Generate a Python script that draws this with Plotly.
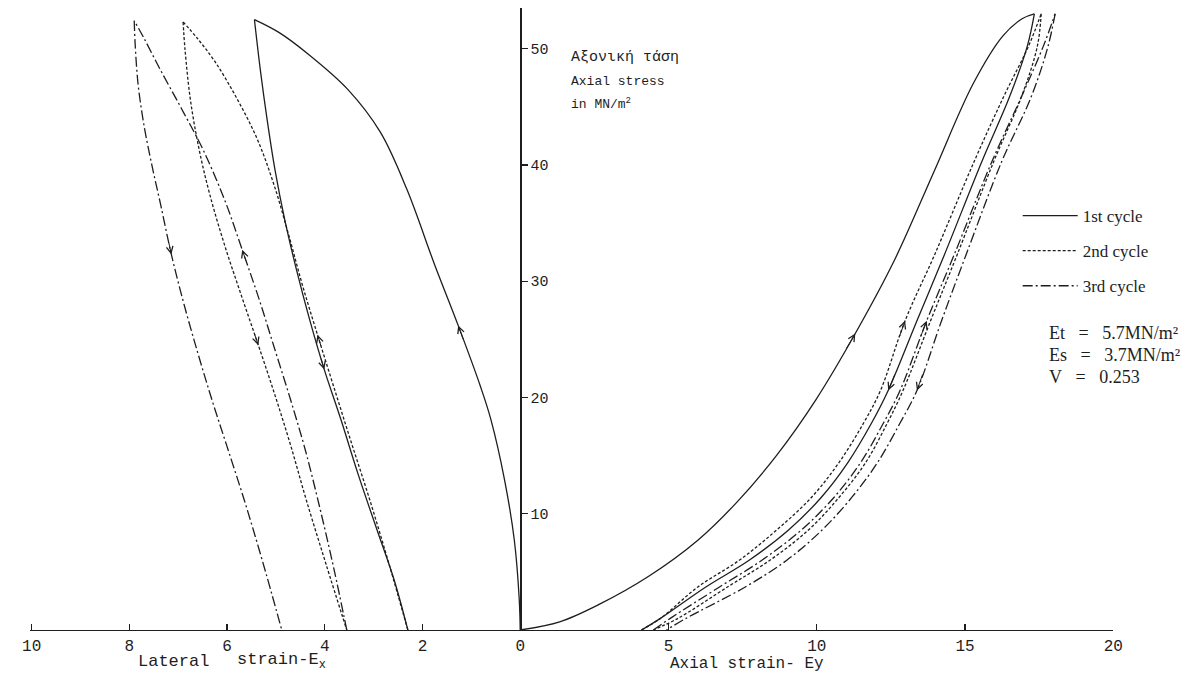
import plotly.graph_objects as go

W, H = 1204, 673

# ---------------- lateral strain side (plotted leftwards from the origin) ----------------
lat_load1_strain = [0.00, 0.02, 0.12, 0.32, 0.60, 0.81, 1.27, 1.75, 2.32, 2.86, 3.53, 4.33, 4.94, 5.44]
lat_load1_stress = [0.0, 2.6, 7.7, 12.9, 18.1, 20.9, 26.2, 31.4, 37.9, 42.8, 46.5, 49.5, 51.4, 52.5]

lat_unload1_strain = [5.44, 5.32, 5.18, 5.02, 4.82, 4.58, 4.31, 4.01, 3.67, 3.31, 2.93, 2.58, 2.30]
lat_unload1_stress = [52.5, 48.2, 43.9, 39.6, 35.3, 31.0, 26.7, 22.4, 18.1, 13.3, 8.6, 4.3, 0.0]

lat_load2_strain = [2.30, 2.68, 3.08, 3.47, 3.83, 4.15, 4.46, 4.74, 5.04, 5.38, 5.81, 6.25, 6.61, 6.90]
lat_load2_stress = [0.0, 5.6, 11.2, 16.3, 21.1, 25.4, 29.7, 34.0, 38.3, 42.2, 45.8, 48.9, 50.9, 52.3]

lat_unload2_strain = [6.90, 6.86, 6.75, 6.57, 6.35, 6.05, 5.71, 5.36, 5.02, 4.70, 4.38, 3.97, 3.55]
lat_unload2_stress = [52.3, 49.9, 45.6, 41.3, 37.4, 33.1, 28.8, 24.5, 20.2, 15.9, 11.2, 5.6, 0.0]

lat_load3_strain = [3.55, 3.81, 4.09, 4.40, 4.70, 5.02, 5.34, 5.69, 6.05, 6.49, 6.94, 7.38, 7.70, 7.90]
lat_load3_stress = [0.0, 5.2, 10.3, 15.5, 19.8, 24.1, 28.4, 32.7, 37.0, 41.3, 44.9, 48.3, 50.9, 52.4]

lat_unload3_strain = [7.90, 7.88, 7.82, 7.70, 7.54, 7.36, 7.14, 6.88, 6.59, 6.31, 6.01, 5.65, 5.28, 4.88]
lat_unload3_stress = [52.4, 50.3, 46.9, 43.4, 40.0, 36.6, 32.3, 28.0, 23.7, 19.8, 15.9, 11.2, 6.0, 0.0]

# ---------------- axial strain side ----------------
ax_load1_strain = [0.00, 1.33, 2.66, 4.32, 5.98, 7.31, 8.64, 9.97, 11.30, 12.62, 13.95, 15.28, 16.28, 16.94, 17.34]
ax_load1_stress = [0.0, 0.7, 2.2, 4.6, 7.7, 11.0, 15.0, 19.8, 25.5, 31.8, 39.4, 47.0, 51.1, 52.6, 53.0]

ax_load_stress = [0.0, 1.0, 3.7, 6.0, 8.6, 11.4, 14.4, 17.8, 20.6, 26.6, 32.3, 40.3, 45.9, 50.2, 53.0]
ax_unload_stress = [53.0, 50.2, 45.9, 40.3, 32.3, 26.6, 20.6, 17.8, 14.4, 11.4, 8.6, 6.0, 3.7, 1.0, 0.0]

ax_unload1_strain = [17.34, 17.10, 16.51, 15.57, 14.31, 13.38, 12.41, 11.85, 11.05, 10.15, 9.05, 7.72, 6.26, 4.73, 4.09]
ax_load2_strain = [4.09, 4.73, 5.99, 7.39, 8.65, 9.82, 10.75, 11.58, 12.15, 12.98, 13.98, 15.31, 16.31, 17.14, 17.57]
ax_unload2_strain = [17.57, 17.44, 16.91, 15.97, 14.74, 13.84, 12.91, 12.38, 11.65, 10.75, 9.72, 8.42, 6.99, 5.32, 4.49]
ax_load3_strain = [4.49, 5.06, 6.72, 8.15, 9.48, 10.58, 11.48, 12.25, 12.81, 13.71, 14.64, 15.91, 16.91, 17.64, 18.04]
ax_unload3_strain = [18.04, 17.80, 17.24, 16.24, 15.04, 14.21, 13.38, 12.81, 12.05, 11.18, 10.18, 8.99, 7.59, 5.59, 4.93]

lat_ticks = [10, 8, 6, 4, 2, 0]
ax_ticks = [5, 10, 15, 20]
stress_ticks = [10, 20, 30, 40, 50]

cycle_names = ["1st cycle", "2nd cycle", "3rd cycle"]
INK = "#1e1e1e"
DASH = {0: "solid", 1: "3px,2px", 2: "10px,3px,2px,3px"}

MONO = "Liberation Mono, DejaVu Sans Mono, monospace"
SERIF = "Liberation Serif, DejaVu Serif, serif"
NB = "\u00a0"

fig = go.Figure()

curves = [
    # (strain, stress, cycle index, x axis, arrow index or None)
    (lat_load1_strain, lat_load1_stress, 0, "x", 6),
    (lat_unload1_strain, lat_unload1_stress, 0, "x", 7),
    (lat_load2_strain, lat_load2_stress, 1, "x", 5),
    (lat_unload2_strain, lat_unload2_stress, 1, "x", 7),
    (lat_load3_strain, lat_load3_stress, 2, "x", 7),
    (lat_unload3_strain, lat_unload3_stress, 2, "x", 6),
    (ax_load1_strain, ax_load1_stress, 0, "x2", 8),
    (ax_unload1_strain, ax_unload_stress, 0, "x2", 6),
    (ax_load2_strain, ax_load_stress, 1, "x2", 9),
    (ax_unload2_strain, ax_unload_stress, 1, "x2", None),
    (ax_load3_strain, ax_load_stress, 2, "x2", 9),
    (ax_unload3_strain, ax_unload_stress, 2, "x2", 6),
]

shown = set()
annotations = []
for xs, ys, cyc, xa, arr in curves:
    fig.add_trace(go.Scatter(
        x=xs, y=ys, xaxis=xa, yaxis="y", mode="lines",
        line=dict(color=INK, width=1.3, dash=DASH[cyc], shape="spline", smoothing=1.0),
        name=cycle_names[cyc], legendgroup=cycle_names[cyc],
        showlegend=cyc not in shown, hoverinfo="skip",
    ))
    shown.add(cyc)
    if arr is not None:
        # chevron pointing along the direction of travel on the curve
        hx, hy = xs[arr], ys[arr]
        px, py = xs[arr - 1], ys[arr - 1]
        annotations.append(dict(
            x=hx, y=hy, ax=hx + 0.25 * (px - hx), ay=hy + 0.25 * (py - hy),
            xref=xa, yref="y", axref=xa, ayref="y", text="",
            showarrow=True, arrowhead=5, arrowsize=1.3, arrowwidth=1, arrowcolor=INK,
            font=dict(size=10),
        ))


def px_x(v):
    return v / W


def px_y(v):
    return 1 - v / H


def label(x, y, text, family, size):
    return dict(x=px_x(x), y=px_y(y), xref="paper", yref="paper", xanchor="left", yanchor="middle",
                text=text, showarrow=False, font=dict(family=family, size=size, color=INK))


annotations += [
    label(130, 661, "Lateral", MONO, 17),
    label(230, 661, "strain-E<sub>x</sub>", MONO, 17),
    label(670, 664, "Axial strain- Ey", MONO, 16),
    label(570, 57, "Αξονική τάση", MONO, 15),
    label(570, 81, "Axial stress", MONO, 13),
    label(570, 103, "in MN/m<sup>2</sup>", MONO, 13),
    label(1055, 333, f"Et{NB*3}={NB*3}5.7MN/m²", SERIF, 18),
    label(1055, 355, f"Es{NB*3}={NB*3}3.7MN/m²", SERIF, 18),
    label(1055, 377, f"V{NB*3}={NB*3}0.253", SERIF, 18),
]

Y_BOTTOM, Y_TOP = 630, 8
X_LEFT, X_ORIGIN, X_RIGHT = 22, 520, 1122

common_x = dict(showgrid=False, zeroline=False, showline=True, linecolor=INK, linewidth=1.3,
                ticks="inside", ticklen=6, tickcolor=INK, tickwidth=1.2,
                tickfont=dict(family=MONO, size=16, color=INK), anchor="y", fixedrange=True)

fig.update_layout(
    width=W, height=H, margin=dict(l=0, r=0, t=0, b=0),
    paper_bgcolor="white", plot_bgcolor="rgba(0,0,0,0)",
    xaxis=dict(domain=[X_LEFT / W, X_ORIGIN / W], range=[10.04, 0],
               tickmode="array", tickvals=lat_ticks, ticktext=[str(t) for t in lat_ticks], **common_x),
    xaxis2=dict(domain=[X_ORIGIN / W, X_RIGHT / W], range=[0, 20],
                tickmode="array", tickvals=ax_ticks, ticktext=[str(t) for t in ax_ticks], **common_x),
    yaxis=dict(domain=[1 - Y_BOTTOM / H, 1 - Y_TOP / H], range=[0, 53.5],
               anchor="free", position=X_ORIGIN / W, side="right",
               showgrid=False, zeroline=False, showline=True, linecolor=INK, linewidth=1.3,
               ticks="outside", ticklen=6, tickcolor=INK, tickwidth=1.2,
               tickmode="array", tickvals=stress_ticks,
               tickfont=dict(family=MONO, size=15, color=INK), fixedrange=True),
    legend=dict(x=1025 / W, y=1 - 198 / H, xanchor="left", yanchor="top",
                bgcolor="rgba(0,0,0,0)", borderwidth=0, traceorder="grouped",
                tracegroupgap=10, itemwidth=55,
                font=dict(family=SERIF, size=17, color=INK)),
    annotations=annotations,
    showlegend=True,
)

fig.write_html("out.html", include_plotlyjs=True, config={"displayModeBar": False, "staticPlot": True})
